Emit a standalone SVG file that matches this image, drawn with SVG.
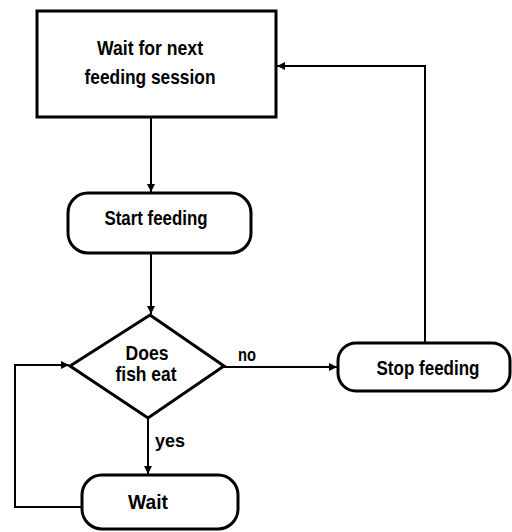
<svg xmlns="http://www.w3.org/2000/svg" width="512" height="532" viewBox="0 0 512 532">
<style>
.box{fill:#fff;stroke:#000;stroke-width:3}
.t{font-family:"Liberation Sans",Arial,sans-serif;font-weight:bold;font-size:21px;fill:#000;text-anchor:middle}
.l{font-family:"Liberation Sans",Arial,sans-serif;font-weight:bold;font-size:19px;fill:#000}
.c{fill:none;stroke:#000;stroke-width:2}
</style>
<defs>
<marker id="ah" viewBox="0 0 10 10" refX="10" refY="5" markerWidth="4" markerHeight="4" orient="auto" markerUnits="strokeWidth">
<path d="M0,0 L10,5 L0,10 z" fill="#000"/>
</marker>
</defs>
<rect width="512" height="532" fill="#fff"/>
<g id="connectors">
<path class="c" d="M151,117 V192" marker-end="url(#ah)"/>
<path class="c" d="M151,253 V314" marker-end="url(#ah)"/>
<path class="c" d="M224,367 H337" marker-end="url(#ah)"/>
<path class="c" d="M148,418 V474" marker-end="url(#ah)"/>
<path class="c" d="M425,343 V66 H277" marker-end="url(#ah)"/>
<path class="c" d="M82,507 H15 V365 H69" marker-end="url(#ah)"/>
<text class="l" x="238" y="361" textLength="18" lengthAdjust="spacingAndGlyphs">no</text>
<text class="l" x="155" y="447" textLength="30" lengthAdjust="spacingAndGlyphs">yes</text>
</g>
<g id="n1">
<rect class="box" x="37" y="11" width="239" height="106"/>
<text class="t" x="150" y="55" textLength="106" lengthAdjust="spacingAndGlyphs">Wait for next</text>
<text class="t" x="150" y="84" textLength="131" lengthAdjust="spacingAndGlyphs">feeding session</text>
</g>
<g id="n2">
<rect class="box" x="68" y="193" width="183" height="60" rx="20" ry="20"/>
<text class="t" x="156" y="225" textLength="103" lengthAdjust="spacingAndGlyphs">Start feeding</text>
</g>
<g id="n3">
<path class="box" d="M150,315 L224,366 L148,418 L70,366 z"/>
<text class="t" x="147" y="360" textLength="43" lengthAdjust="spacingAndGlyphs">Does</text>
<text class="t" x="146" y="381" textLength="61" lengthAdjust="spacingAndGlyphs">fish eat</text>
</g>
<g id="n4">
<rect class="box" x="338" y="343" width="172" height="48" rx="18" ry="18"/>
<text class="t" x="428" y="375" textLength="103" lengthAdjust="spacingAndGlyphs">Stop feeding</text>
</g>
<g id="n5">
<rect class="box" x="82" y="475" width="156" height="54" rx="20" ry="20"/>
<text class="t" x="148" y="509" textLength="40" lengthAdjust="spacingAndGlyphs">Wait</text>
</g>
</svg>
